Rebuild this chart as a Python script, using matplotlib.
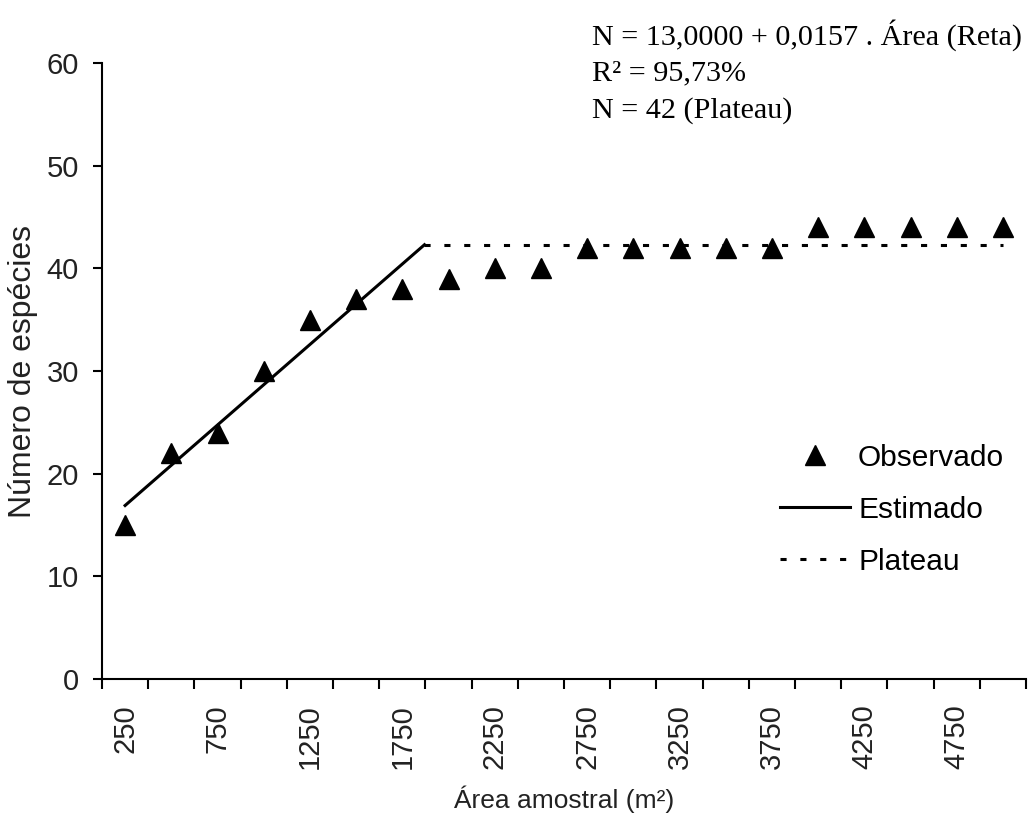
import numpy as np
import matplotlib.pyplot as plt

plt.rcParams['font.family'] = ['Liberation Sans', 'DejaVu Sans']

# Dados observados
area = [250, 500, 750, 1000, 1250, 1500, 1750, 2000, 2250, 2500,
        2750, 3000, 3250, 3500, 3750, 4000, 4250, 4500, 4750, 5000]
especies = [15, 22, 24, 30, 35, 37, 38, 39, 40, 40,
            42, 42, 42, 42, 42, 44, 44, 44, 44, 44]

# Reta estimada e plateau
reta_x = [250, 1870]
reta_y = [16.9, 42.3]
plateau_x = [1870, 5000]
plateau_y = [42.3, 42.3]

tick_labels = [250, 750, 1250, 1750, 2250, 2750, 3250, 3750, 4250, 4750]

fig = plt.figure(figsize=(10.32, 8.27), dpi=100)
ax = fig.add_axes([102/1032, 148/827, 924/1032, 616/827])

ax.plot(area, especies, linestyle='none', marker='^', color='black',
        markersize=14, label='Observado')
ax.plot(reta_x, reta_y, '-', color='black', lw=2.2, label='Estimado')
ax.plot(plateau_x, plateau_y, color='black', lw=2.2,
        linestyle=(0, (2, 4.5)), label='Plateau')

ax.set_xlim(125, 5125)
ax.set_ylim(0, 60)

# eixos
ax.spines['top'].set_visible(False)
ax.spines['right'].set_visible(False)
ax.spines['left'].set_linewidth(1.5)
ax.spines['bottom'].set_linewidth(1.5)

ax.set_xticks(np.arange(125, 5126, 250))
ax.set_xticklabels([])
ax.set_xticks(tick_labels, minor=True)
ax.set_xticklabels([str(t) for t in tick_labels], minor=True, rotation=90)
ax.tick_params(axis='x', which='minor', length=0, pad=18, labelsize=21, labelcolor='#222222')
ax.tick_params(axis='x', which='major', length=7.5, width=1.5)
ax.set_yticks(range(0, 61, 10))
ax.tick_params(axis='y', length=6.5, width=1.5, pad=10, labelsize=21, labelcolor='#222222')

ax.set_xlabel('Área amostral (m²)', fontsize=19, color='#222222', labelpad=12)
ax.set_ylabel('Número de espécies', fontsize=23, color='#222222', labelpad=6)

ax.legend(loc='upper left', bbox_to_anchor=(753/1032, 1 - 417/827),
          bbox_transform=fig.transFigure, frameon=False, fontsize=21.5,
          handlelength=2.35, handletextpad=0.27, labelspacing=0.8)

txt = 'N = 13,0000 + 0,0157 . Área (Reta)\nR² = 95,73%\nN = 42 (Plateau)'
fig.text(592/1032, 1 - 19/827, txt, family=['Liberation Serif', 'DejaVu Serif'],
         fontsize=21.7, va='top', ha='left', linespacing=1.5)

fig.savefig('out.png', dpi=100)
